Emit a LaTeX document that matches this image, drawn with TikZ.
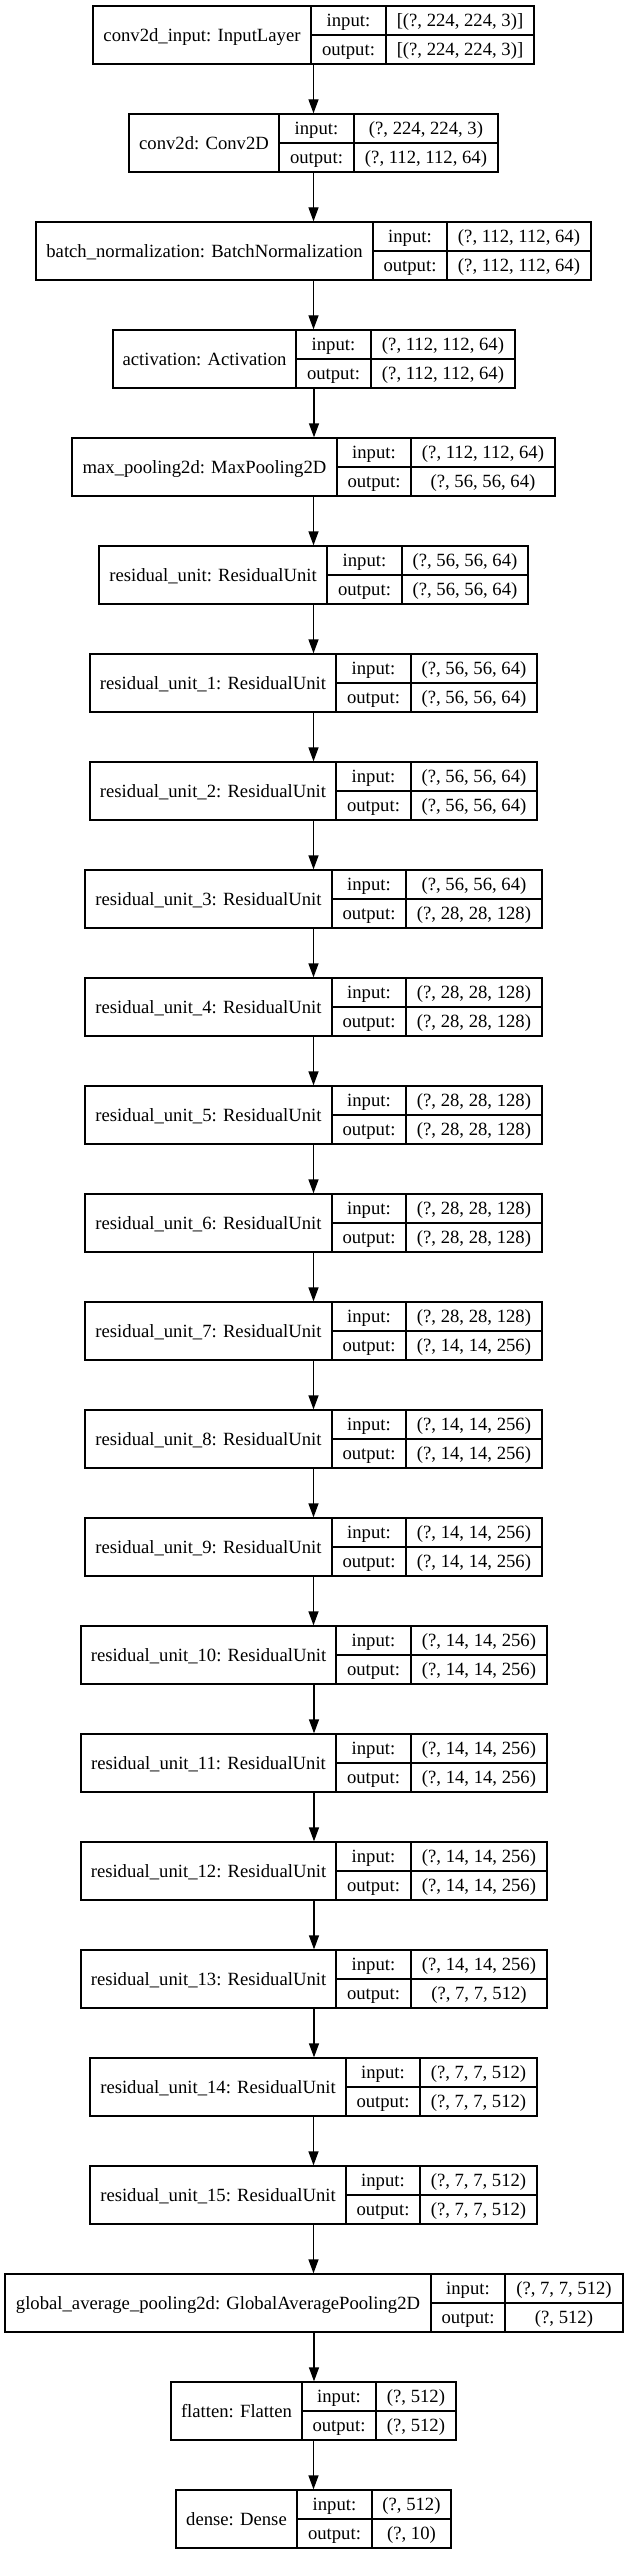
\documentclass[tikz,border=0pt]{standalone}
\usepackage{fontspec}
\setmainfont{Liberation Serif}
\usetikzlibrary{arrows.meta,fit}
\tikzset{
  box/.style={draw=black, line width=1.33pt, inner sep=0pt, fill=white},
  sep/.style={draw=black, line width=1.33pt},
  txt/.style={inner sep=0pt, anchor=base, font=\fontsize{18.67}{22}\selectfont},
  arr/.style={draw=black, line width=1.33pt, -{Triangle[length=14pt, width=10pt]}}
}
\newcommand\layer[9]{%
  \pgfmathsetmacro\ltop{6+108*#2}%
  \pgfmathsetmacro\lmid{\ltop+29}%
  \pgfmathsetmacro\lbot{\ltop+58}%
  \pgfmathsetmacro\lbase{\lmid+6.2}%
  \pgfmathsetmacro\rbaseA{\ltop+14.5+6.2}%
  \pgfmathsetmacro\rbaseB{\lmid+14.5+6.2}%
  \coordinate (#1tl) at (#3,\ltop);
  \coordinate (#1br) at (#6,\lbot);
  \node[box, fit=(#1tl)(#1br)] (#1) {};
  \draw[sep] (#4,\ltop) -- (#4,\lbot);
  \draw[sep] (#5,\ltop) -- (#5,\lbot);
  \draw[sep] (#4,\lmid) -- (#6,\lmid);
  \node[txt] (#1lab) at ({(#3+#4)/2},\lbase) {#7};
  \node[txt] (#1ik) at ({(#4+#5)/2},\rbaseA) {input:};
  \node[txt] (#1ok) at ({(#4+#5)/2},\rbaseB) {output:};
  \node[txt] (#1iv) at ({(#5+#6)/2},\rbaseA) {#8};
  \node[txt] (#1ov) at ({(#5+#6)/2},\rbaseB) {#9};
}
\begin{document}
\begin{tikzpicture}[x=1pt, y=-1pt]
\useasboundingbox (0,0) rectangle (625,2555);
\fill[white] (0,0) rectangle (625,2555);
\layer{n0}{0}{93}{311}{386}{534}{conv2d\_input: InputLayer}{[(?, 224, 224, 3)]}{[(?, 224, 224, 3)]}
\layer{n1}{1}{129}{279}{354}{498}{conv2d: Conv2D}{(?, 224, 224, 3)}{(?, 112, 112, 64)}
\layer{n2}{2}{36}{373}{447}{591}{batch\_normalization: BatchNormalization}{(?, 112, 112, 64)}{(?, 112, 112, 64)}
\layer{n3}{3}{113}{296}{371}{515}{activation: Activation}{(?, 112, 112, 64)}{(?, 112, 112, 64)}
\layer{n4}{4}{72}{337}{411}{555}{max\_pooling2d: MaxPooling2D}{(?, 112, 112, 64)}{(?, 56, 56, 64)}
\layer{n5}{5}{99}{327}{402}{528}{residual\_unit: ResidualUnit}{(?, 56, 56, 64)}{(?, 56, 56, 64)}
\layer{n6}{6}{90}{336}{411}{537}{residual\_unit\_1: ResidualUnit}{(?, 56, 56, 64)}{(?, 56, 56, 64)}
\layer{n7}{7}{90}{336}{411}{537}{residual\_unit\_2: ResidualUnit}{(?, 56, 56, 64)}{(?, 56, 56, 64)}
\layer{n8}{8}{85}{332}{406}{542}{residual\_unit\_3: ResidualUnit}{(?, 56, 56, 64)}{(?, 28, 28, 128)}
\layer{n9}{9}{85}{332}{406}{542}{residual\_unit\_4: ResidualUnit}{(?, 28, 28, 128)}{(?, 28, 28, 128)}
\layer{n10}{10}{85}{332}{406}{542}{residual\_unit\_5: ResidualUnit}{(?, 28, 28, 128)}{(?, 28, 28, 128)}
\layer{n11}{11}{85}{332}{406}{542}{residual\_unit\_6: ResidualUnit}{(?, 28, 28, 128)}{(?, 28, 28, 128)}
\layer{n12}{12}{85}{332}{406}{542}{residual\_unit\_7: ResidualUnit}{(?, 28, 28, 128)}{(?, 14, 14, 256)}
\layer{n13}{13}{85}{332}{406}{542}{residual\_unit\_8: ResidualUnit}{(?, 14, 14, 256)}{(?, 14, 14, 256)}
\layer{n14}{14}{85}{332}{406}{542}{residual\_unit\_9: ResidualUnit}{(?, 14, 14, 256)}{(?, 14, 14, 256)}
\layer{n15}{15}{81}{336}{411}{547}{residual\_unit\_10: ResidualUnit}{(?, 14, 14, 256)}{(?, 14, 14, 256)}
\layer{n16}{16}{81}{336}{411}{547}{residual\_unit\_11: ResidualUnit}{(?, 14, 14, 256)}{(?, 14, 14, 256)}
\layer{n17}{17}{81}{336}{411}{547}{residual\_unit\_12: ResidualUnit}{(?, 14, 14, 256)}{(?, 14, 14, 256)}
\layer{n18}{18}{81}{336}{411}{547}{residual\_unit\_13: ResidualUnit}{(?, 14, 14, 256)}{(?, 7, 7, 512)}
\layer{n19}{19}{90}{346}{420}{537}{residual\_unit\_14: ResidualUnit}{(?, 7, 7, 512)}{(?, 7, 7, 512)}
\layer{n20}{20}{90}{346}{420}{537}{residual\_unit\_15: ResidualUnit}{(?, 7, 7, 512)}{(?, 7, 7, 512)}
\layer{n21}{21}{5}{431}{505}{623}{global\_average\_pooling2d: GlobalAveragePooling2D}{(?, 7, 7, 512)}{(?, 512)}
\layer{n22}{22}{171}{302}{376}{456}{flatten: Flatten}{(?, 512)}{(?, 512)}
\layer{n23}{23}{176}{297}{372}{451}{dense: Dense}{(?, 512)}{(?, 10)}
\foreach \a/\b in {0/1,1/2,2/3,3/4,4/5,5/6,6/7,7/8,8/9,9/10,10/11,11/12,12/13,13/14,14/15,15/16,16/17,17/18,18/19,19/20,20/21,21/22,22/23}{
  \draw[arr] (n\a.south) -- (n\a.south |- n\b.north);
}
\end{tikzpicture}
\end{document}
